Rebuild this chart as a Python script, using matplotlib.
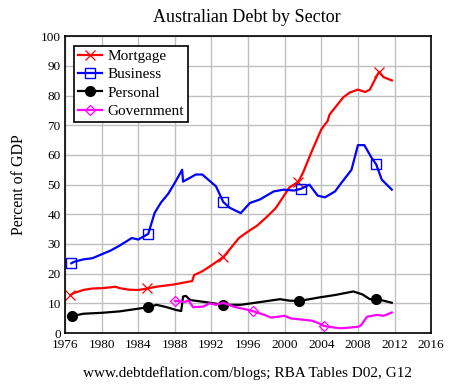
import matplotlib.pyplot as plt

# --- DATA (percent of GDP) ---
mortgage_years = [1976.6, 1977, 1978, 1979, 1980, 1981, 1981.5, 1982, 1983, 1984, 1985,
                  1986, 1987, 1988, 1989, 1989.9, 1990.1, 1991, 1992, 1993.3, 1994,
                  1995, 1996, 1997, 1998, 1999, 2000, 2000.5, 2001.5, 2002, 2003,
                  2004, 2004.7, 2004.9, 2006.4, 2007.1, 2008, 2008.8, 2009.3, 2010.3,
                  2010.8, 2011.7]
mortgage = [12.8, 13.5, 14.5, 15, 15.1, 15.4, 15.6, 15.1, 14.6, 14.5, 15,
            15.6, 16, 16.4, 17, 17.5, 19.5, 20.8, 22.8, 25.6, 28.2,
            32, 34.2, 36.2, 39, 42, 46.6, 49, 51, 54, 61.5,
            68.6, 71.5, 73.6, 79.4, 81, 82, 81.2, 82, 88,
            86.2, 85.1]
mortgage_marks = [1976.6, 1985, 1993.3, 2001.5, 2010.3]

business_years = [1976.7, 1977, 1978, 1979, 1980, 1981, 1982, 1983.3, 1984, 1985.1,
                  1985.8, 1986.5, 1987.3, 1988, 1988.8, 1988.9, 1990.3, 1991, 1992.5,
                  1993.3, 1994, 1995.2, 1996.2, 1997.3, 1998.8, 1999.9, 2001, 2001.8,
                  2002.7, 2003.6, 2004.4, 2005.5, 2006.2, 2007.3, 2008, 2008.7,
                  2009.5, 2010, 2010.6, 2011.7]
business = [23.5, 24, 24.8, 25.2, 26.5, 27.8, 29.5, 32, 31.5, 33.4,
            40.5, 44, 47, 50.6, 55, 51, 53.4, 53.4, 49.4,
            44.1, 42.2, 40.4, 43.8, 45, 47.7, 48.3, 48, 48.6,
            50, 46.3, 45.7, 47.7, 50.6, 55, 63.3, 63.3,
            59, 56.8, 51.7, 48.3]
business_marks = [1976.7, 1985.1, 1993.3, 2001.8, 2010]

personal_years = [1976.8, 1978, 1980, 1982, 1984, 1985.1, 1986, 1987, 1988.1, 1988.7,
                  1988.9, 1989.2, 1989.7, 1991.4, 1993.3, 1995.2, 1997.7, 1999.5,
                  2000.5, 2001.6, 2003.8, 2005.5, 2007.5, 2008.5, 2009.3, 2010,
                  2011.7]
personal = [5.7, 6.5, 6.8, 7.3, 8.2, 8.7, 9.5, 8.8, 7.8, 7.4,
            12.3, 12.5, 11.1, 10.4, 9.5, 9.5, 10.6, 11.4,
            10.9, 10.8, 12, 12.8, 14, 13, 11.4, 11.5,
            10.2]
personal_marks = [1976.8, 1985.1, 1993.3, 2001.6, 2010]

government_years = [1988, 1989.1, 1989.5, 1990, 1991.1, 1991.8, 1992.5, 1993.3, 1994.4,
                    1996, 1996.5, 1997.8, 1998.5, 1999.3, 2000, 2000.7, 2002.9,
                    2003.5, 2004.3, 2005, 2006.1, 2007, 2008, 2008.3, 2009, 2010.1,
                    2010.8, 2011.7]
government = [10.8, 10.5, 11, 8.7, 8.9, 10, 9.5, 10.2, 8.9,
              7.8, 7.4, 6.1, 5.2, 5.5, 5.8, 4.9, 4.2,
              3.6, 2.4, 2, 1.6, 1.8, 2.1, 2.5, 5.5, 6.1,
              5.8, 6.9]
government_marks = [1988, 1996.5, 2004.3]

X_TICKS = list(range(1976, 2017, 4))
Y_TICKS = list(range(0, 101, 10))

plt.rcParams["font.family"] = ["Liberation Serif", "DejaVu Serif"]

fig = plt.figure(figsize=(4.51, 3.85), dpi=100)
ax = fig.add_axes([0.144, 0.135, 0.812, 0.771])


def draw(years, values, marks, color, label, **marker_style):
    every = [years.index(m) for m in marks]
    ax.plot(years, values, color=color, linewidth=1.6, label=label,
            markevery=every, **marker_style)


draw(mortgage_years, mortgage, mortgage_marks, "#ff0000", "Mortgage",
     marker="x", markersize=7, markeredgewidth=0.9)
draw(business_years, business, business_marks, "#0000ff", "Business",
     marker="s", markersize=7.5, markerfacecolor="none", markeredgewidth=1.0)
draw(personal_years, personal, personal_marks, "#000000", "Personal",
     marker="o", markersize=7)
draw(government_years, government, government_marks, "#ff00ff", "Government",
     marker="D", markersize=5, markerfacecolor="none", markeredgewidth=0.9)

ax.set_xlim(1976, 2016)
ax.set_ylim(0, 100)
ax.set_xticks(X_TICKS)
ax.set_yticks(Y_TICKS)
ax.tick_params(axis="y", length=0, labelsize=9.5, pad=3)
ax.tick_params(axis="x", length=0, labelsize=9.5, pad=4.5)
ax.grid(color="#c0c0c0", linewidth=1)
ax.set_axisbelow(True)
for s in ax.spines.values():
    s.set_linewidth(1.2)

ax.set_ylabel("Percent of GDP", fontsize=11.5, labelpad=10)
fig.text(0.547, 0.955, "Australian Debt by Sector", ha="center", va="center", fontsize=13)
fig.text(0.548, 0.031, "www.debtdeflation.com/blogs; RBA Tables D02, G12",
         ha="center", va="center", fontsize=11)

leg = ax.legend(loc="upper left", bbox_to_anchor=(0.025, 0.968), fontsize=11,
                fancybox=False, framealpha=1, edgecolor="black", borderpad=0.25,
                labelspacing=0.3, handlelength=1.6, handletextpad=0.35,
                borderaxespad=0)
leg.get_frame().set_linewidth(1.2)

fig.savefig("out.png", dpi=100)
